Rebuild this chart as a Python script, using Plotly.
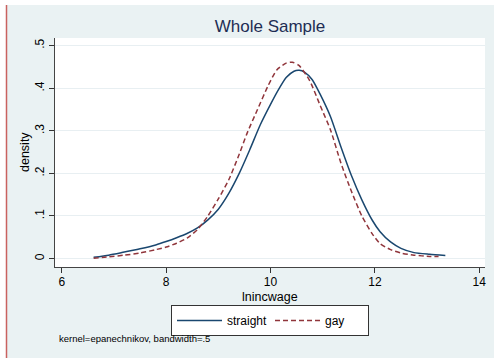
import plotly.graph_objects as go

# Data (kernel density estimates of lnincwage)
straight_x = [6.61, 6.9, 7.15, 7.5, 7.8, 8.0, 8.2, 8.4, 8.6, 8.8, 9.0, 9.2, 9.4, 9.6, 9.8,
              10.0, 10.15, 10.3, 10.45, 10.55, 10.65, 10.8, 10.95, 11.15, 11.35, 11.55,
              11.75, 11.95, 12.1, 12.3, 12.5, 12.75, 13.05, 13.35]
straight_y = [0.003, 0.008, 0.014, 0.023, 0.032, 0.040, 0.049, 0.059, 0.072, 0.091, 0.116,
              0.153, 0.200, 0.255, 0.313, 0.362, 0.396, 0.425, 0.440, 0.442, 0.438, 0.420,
              0.386, 0.333, 0.262, 0.195, 0.138, 0.090, 0.063, 0.039, 0.024, 0.014, 0.010, 0.007]

gay_x = [6.61, 6.9, 7.2, 7.5, 7.8, 8.0, 8.2, 8.4, 8.6, 8.8, 9.0, 9.2, 9.4, 9.55, 9.75,
         9.95, 10.12, 10.3, 10.42, 10.55, 10.75, 10.95, 11.15, 11.35, 11.55, 11.75,
         11.95, 12.1, 12.3, 12.5, 12.75, 13.05, 13.22]
gay_y = [0.001, 0.004, 0.008, 0.013, 0.021, 0.027, 0.036, 0.048, 0.068, 0.100, 0.140,
         0.185, 0.245, 0.294, 0.350, 0.405, 0.443, 0.459, 0.461, 0.453, 0.418, 0.360,
         0.302, 0.224, 0.158, 0.100, 0.058, 0.035, 0.021, 0.013, 0.008, 0.005, 0.005]

x_ticks = [6, 8, 10, 12, 14]
y_ticks = [0, 0.1, 0.2, 0.3, 0.4, 0.5]
y_ticktext = ["0", ".1", ".2", ".3", ".4", ".5"]

BG = "#EAF2F3"
NAVY = "#1A476F"
MAROON = "#90353B"
FONT = "Liberation Sans, Arial, sans-serif"

fig = go.Figure()
fig.add_trace(go.Scatter(x=straight_x, y=straight_y, mode="lines", name="straight",
                         line=dict(color=NAVY, width=1.5, shape="spline", smoothing=0.6)))
fig.add_trace(go.Scatter(x=gay_x, y=gay_y, mode="lines", name="gay",
                         line=dict(color=MAROON, width=1.5, dash="5px,3px",
                                   shape="spline", smoothing=0.6)))

W, H = 494, 358
L, R, T, B = 55, 9, 38, 91
pw, ph = W - L - R, H - T - B


def px_x(p):
    return (p - L) / pw


def px_y(p):
    return (H - B - p) / ph


shapes = [
    # white top strip
    dict(type="rect", xref="paper", yref="paper", x0=px_x(-10), x1=px_x(W + 10),
         y0=px_y(5), y1=px_y(-10), fillcolor="white", line=dict(width=0), layer="below"),
    # white left strip
    dict(type="rect", xref="paper", yref="paper", x0=px_x(-10), x1=px_x(6),
         y0=px_y(H + 10), y1=px_y(-10), fillcolor="white", line=dict(width=0), layer="below"),
    # red margin line
    dict(type="line", xref="paper", yref="paper", x0=px_x(6.5), x1=px_x(6.5),
         y0=px_y(H + 10), y1=px_y(5), line=dict(color="#C9625F", width=1.5), layer="below"),
]

fig.update_layout(
    width=W, height=H,
    margin=dict(l=L, r=R, t=T, b=B, autoexpand=False),
    paper_bgcolor=BG, plot_bgcolor="white",
    font=dict(family=FONT, size=12, color="black"),
    title=dict(text="Whole Sample", x=px_x(270), xref="paper", xanchor="center",
               y=1 - 26 / H, yanchor="middle",
               font=dict(size=17, color="#1E2D53", family=FONT)),
    xaxis=dict(range=[5.87, 14.11], tickvals=x_ticks, ticks="outside", ticklen=5,
               tickcolor="#333", showline=True, linecolor="#444", linewidth=1,
               showgrid=False, zeroline=False, tickfont=dict(size=12), automargin=False,
               ticklabelstandoff=-1),
    yaxis=dict(range=[-0.0198, 0.518], tickvals=y_ticks, ticktext=y_ticktext,
               tickangle=-90, ticks="outside", ticklen=5, tickcolor="#333",
               showline=True, linecolor="#444", linewidth=1, automargin=False,
               showgrid=True, gridcolor="#E8EFF2", gridwidth=1, zeroline=False,
               tickfont=dict(size=12)),
    legend=dict(orientation="h", x=px_x(270), xanchor="center", y=px_y(305), yanchor="top",
                bgcolor="white", bordercolor="#333", borderwidth=1,
                font=dict(size=12), entrywidth=38, itemwidth=45),
    shapes=shapes,
    annotations=[
        dict(text="lnincwage", xref="paper", yref="paper", x=px_x(270), y=px_y(296.5),
             xanchor="center", yanchor="middle", showarrow=False, font=dict(size=12.5)),
        dict(text="density", xref="paper", yref="paper", x=px_x(25), y=px_y(152),
             xanchor="center", yanchor="middle", textangle=-90, showarrow=False,
             font=dict(size=12.5)),
        dict(text="kernel=epanechnikov, bandwidth=.5", xref="paper", yref="paper",
             x=px_x(57), y=px_y(338), xanchor="left", yanchor="middle",
             showarrow=False, font=dict(size=9.5, color="black")),
    ],
)

fig.write_html("out.html", config={"displayModeBar": False},
               post_script="document.body.style.margin='0';document.body.style.padding='0';")
